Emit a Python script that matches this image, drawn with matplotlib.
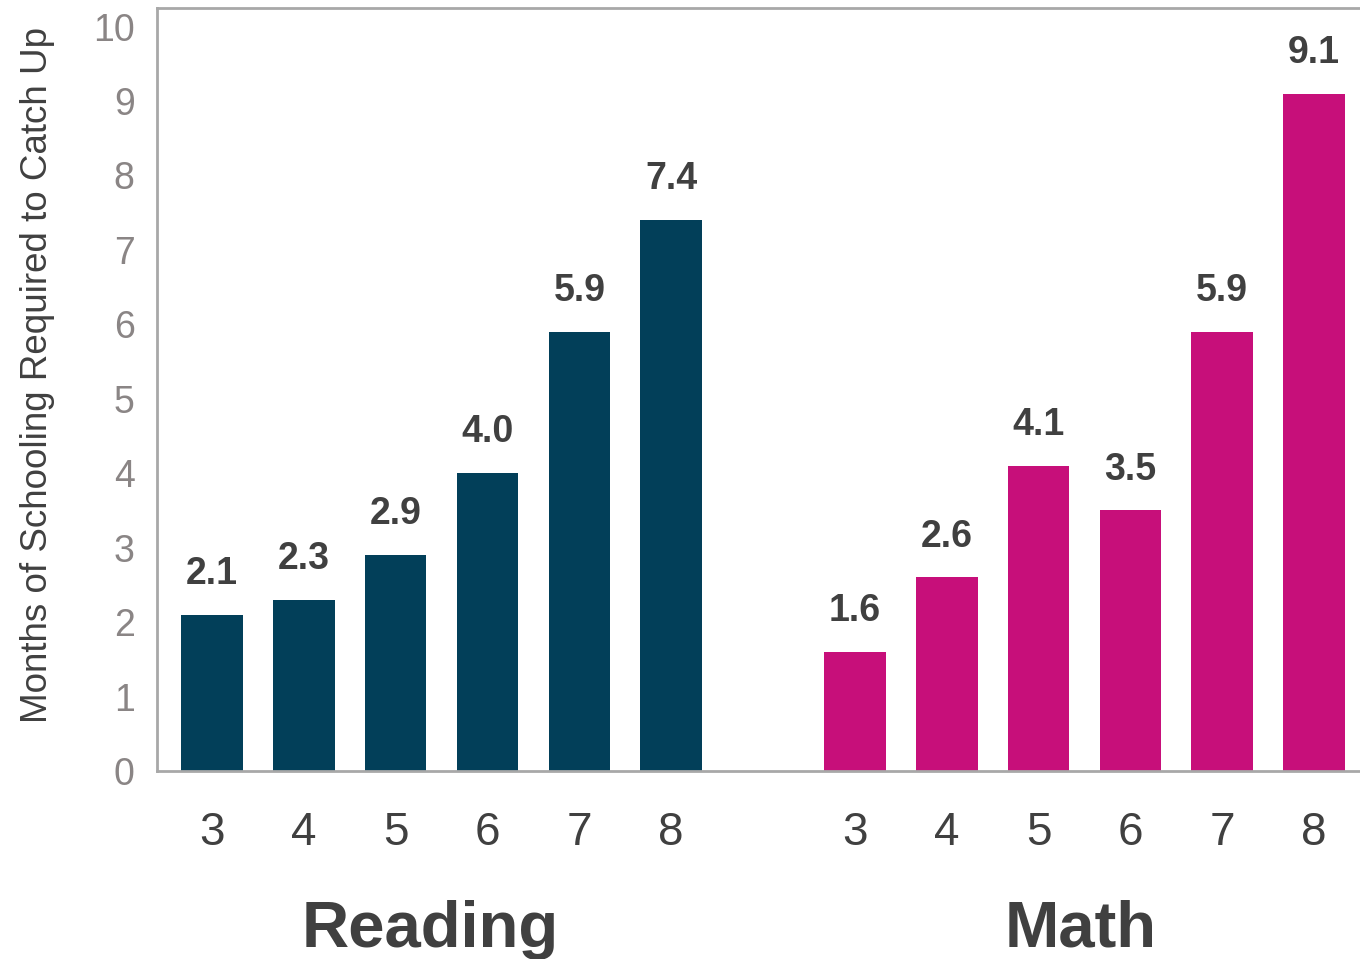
import numpy as np
import matplotlib
matplotlib.use('agg')
import matplotlib.pyplot as plt

plt.rcParams['font.family'] = ['Liberation Sans', 'DejaVu Sans']

## data
grades = ['3', '4', '5', '6', '7', '8']
reading = [2.1, 2.3, 2.9, 4.0, 5.9, 7.4]
math = [1.6, 2.6, 4.1, 3.5, 5.9, 9.1]
subjects = ['Reading', 'Math']

navy = '#023f59'
magenta = '#c70f7a'
dark = '#404040'
grey = '#8a8585'
spine = '#a8a8a8'

x_read = np.arange(len(reading))
x_math = np.arange(len(math)) + len(reading) + 1

fig = plt.figure(figsize=(13.6, 9.59), dpi=100)
ax = fig.add_axes([0.1154, 0.196, 0.8846, 0.7957])

bw = 0.67
b1 = ax.bar(x_read, reading, width=bw, color=navy)
b2 = ax.bar(x_math, math, width=bw, color=magenta)

# value labels above each bar
for bars, vals in [(b1, reading), (b2, math)]:
    for b, v in zip(bars, vals):
        ax.annotate('{:.1f}'.format(v), (b.get_x() + b.get_width() / 2, v),
                    xytext=(0, 29.5), textcoords='offset points',
                    ha='center', va='center', fontsize=27,
                    fontweight='bold', color=dark)

ax.set_xlim(-0.6, x_math[-1] + 0.5)
ax.set_ylim(0, 10.25)
ax.set_yticks(range(0, 11))
ax.set_xticks(np.concatenate([x_read, x_math]))
ax.set_xticklabels(grades + grades)

ax.tick_params(axis='y', length=0, pad=16, labelsize=27, labelcolor=grey)
ax.tick_params(axis='x', length=0, pad=29, labelsize=33, labelcolor=dark)

for s in ['left', 'top', 'bottom']:
    ax.spines[s].set_color(spine)
    ax.spines[s].set_linewidth(2)
ax.spines['right'].set_visible(False)

ax.set_ylabel('Months of Schooling Required to Catch Up', fontsize=26.5,
              color=dark)
ax.yaxis.set_label_coords(-0.085, 0.519)

# subject names under each group
for name, xs, dx in zip(subjects, [x_read, x_math], [-0.12, -0.04]):
    ax.text(xs.mean() + dx, -2.13, name,
            ha='center', va='center', fontsize=47, fontweight='bold',
            color=dark)

fig.savefig('out.png', dpi=100)
